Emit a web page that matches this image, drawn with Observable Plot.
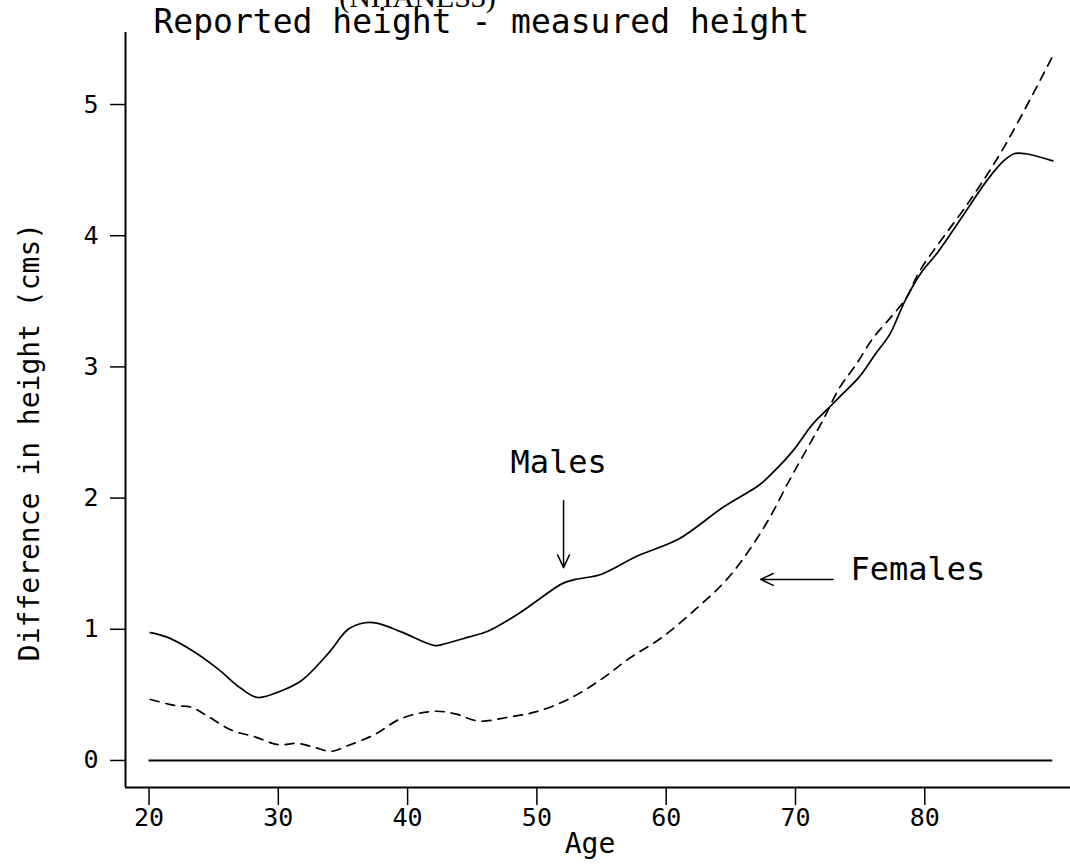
<!DOCTYPE html>
<html><head><meta charset="utf-8">
<script src="https://cdn.jsdelivr.net/npm/d3@7"></script>
<script src="https://cdn.jsdelivr.net/npm/@observablehq/plot@0.6"></script>
<style>body{margin:0;background:#fff;}</style>
</head><body><div id="chart"></div>
<script>
const maleAge  = [20.1,21.4,23.3,25.3,27.1,28.4,30.2,31.8,33.9,35.4,36.7,37.7,39.5,42.1,42.9,44.7,46.2,48.6,50.6,52.0,53.0,55.0,57.8,61.0,64.4,67.2,68.2,69.8,71.3,72.7,73.6,74.9,76.2,77.3,78.0,78.6,79.8,80.9,83.0,84.8,86.1,86.9,87.8,89.9];
const maleDiff = [0.975,0.94,0.84,0.70,0.55,0.48,0.53,0.61,0.82,1.00,1.05,1.045,0.98,0.876,0.89,0.94,0.985,1.12,1.26,1.35,1.38,1.42,1.56,1.69,1.93,2.10,2.19,2.36,2.56,2.70,2.79,2.92,3.10,3.25,3.40,3.53,3.73,3.86,4.16,4.42,4.57,4.625,4.625,4.57];
const femaleAge  = [20.1,21.95,23.3,24.5,26.4,28.2,30.0,31.5,32.8,34.1,35.4,37.5,39.5,42.1,43.7,45.5,47.8,49.9,52.5,55.0,57.1,59.7,62.3,64.6,66.4,68.0,69.5,70.8,72.1,73.4,74.7,76.0,77.3,78.6,79.6,83.5,86.1,89.9];
const femaleDiff = [0.465,0.42,0.405,0.34,0.23,0.18,0.12,0.13,0.10,0.07,0.114,0.20,0.32,0.375,0.355,0.30,0.33,0.37,0.47,0.62,0.775,0.94,1.155,1.37,1.60,1.85,2.13,2.36,2.59,2.84,3.02,3.22,3.37,3.53,3.73,4.27,4.67,5.37];
const xTicks = [20,30,40,50,60,70,80];
const yTicks = [0,1,2,3,4,5];
const title = "Reported height - measured height";
const subtitle = "(NHANES3)";
const xLabel = "Age";
const yLabel = "Difference in height (cms)";
const seriesLabels = [{text:"Males", age:47.96, diff:2.27},{text:"Females", age:74.25, diff:1.45}];
const arrows = [{x1:52.06,y1:1.98,x2:52.06,y2:1.47},{x1:72.9,y1:1.38,x2:67.3,y2:1.38}];
const zeroLine = [{y:0, from:20, to:89.9}];

const males = maleAge.map((a,i)=>({age:a, diff:maleDiff[i]}));
const females = femaleAge.map((a,i)=>({age:a, diff:femaleDiff[i]}));
const xDom = [18.18, 91.27], yDom = [-0.206, 5.549];
const font = "'DejaVu Sans Mono', monospace";

const plot = Plot.plot({
  width:1070, height:867, marginLeft:125, marginRight:0, marginTop:32, marginBottom:80,
  style:{fontFamily:font, background:"white", color:"black"},
  x:{domain:xDom}, y:{domain:yDom},
  marks:[
    Plot.ruleX([xDom[0]], {stroke:"black", strokeWidth:2}),
    Plot.ruleY([yDom[0]], {stroke:"black", strokeWidth:2}),
    Plot.axisX(xTicks, {tickSize:18, tickPadding:3, fontSize:25, label:null, strokeWidth:1.5, tickFormat:"d"}),
    Plot.axisY(yTicks, {tickSize:15, tickPadding:12, fontSize:25, label:null, strokeWidth:1.5, tickFormat:"d"}),
    Plot.ruleY(zeroLine, {y:"y", x1:"from", x2:"to", stroke:"black", strokeWidth:2}),
    Plot.line(males, {x:"age", y:"diff", curve:"catmull-rom", stroke:"black", strokeWidth:1.7}),
    Plot.line(females, {x:"age", y:"diff", curve:"catmull-rom", stroke:"black", strokeWidth:1.7, strokeDasharray:"9,7"}),
    Plot.arrow(arrows, {x1:"x1", y1:"y1", x2:"x2", y2:"y2", stroke:"black", strokeWidth:1.5, headLength:14, headAngle:50}),
    Plot.text(seriesLabels, {x:"age", y:"diff", text:"text", textAnchor:"start", fontSize:32}),
    Plot.text([title], {text:d=>d, frameAnchor:"top-left", textAnchor:"start", lineAnchor:"middle", dx:28, dy:-9.6, fontSize:33}),
    Plot.text([subtitle], {text:d=>d, frameAnchor:"top-left", textAnchor:"middle", lineAnchor:"middle", dx:292, dy:-35.6, fontSize:30, fontFamily:"'Liberation Serif', serif"}),
    Plot.text([yLabel], {text:d=>d, frameAnchor:"left", textAnchor:"middle", lineAnchor:"middle", rotate:-90, dx:-95, dy:32, fontSize:28}),
    Plot.text([xLabel], {text:d=>d, frameAnchor:"bottom", textAnchor:"middle", lineAnchor:"middle", dx:-8, dy:57, fontSize:28})
  ]
});
document.getElementById("chart").appendChild(plot);
</script>
</body></html>
